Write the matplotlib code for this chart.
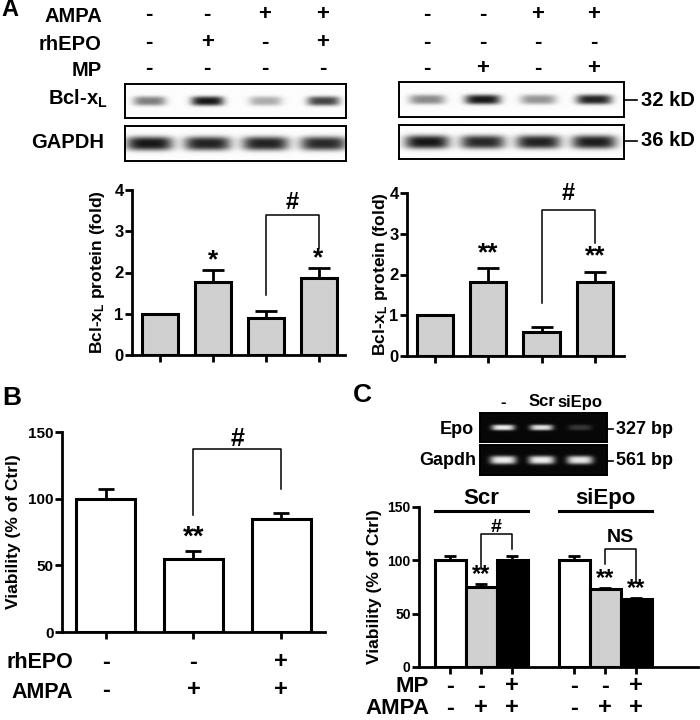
import numpy as np
import matplotlib
matplotlib.use("Agg")
import matplotlib.pyplot as plt
from matplotlib import transforms

plt.rcParams['font.family'] = ['Liberation Sans', 'DejaVu Sans']
plt.rcParams['font.weight'] = 'bold'
plt.rcParams['axes.labelweight'] = 'bold'
plt.rcParams['mathtext.fontset'] = 'custom'
plt.rcParams['mathtext.rm'] = 'Liberation Sans:bold'
plt.rcParams['mathtext.it'] = 'Liberation Sans:bold'
plt.rcParams['mathtext.bf'] = 'Liberation Sans:bold'

# ---------------- data ----------------
# Panel A, treatment rows
A_row_names = ["AMPA", "rhEPO", "MP"]
A_left_rows = [["-", "-", "+", "+"], ["-", "+", "-", "+"], ["-", "-", "-", "-"]]
A_right_rows = [["-", "-", "+", "+"], ["-", "-", "-", "-"], ["-", "+", "-", "+"]]
# blot band intensities (0..1)
A_left_bcl = [0.55, 1.00, 0.35, 0.80]
A_left_gapdh = [1.00, 0.95, 0.95, 0.92]
A_right_bcl = [0.50, 1.00, 0.45, 0.95]
A_right_gapdh = [1.00, 0.92, 0.95, 0.97]
A_markers = ["32 kD", "36 kD"]
# Panel A, quantification
A_left_mean = [1.00, 1.77, 0.90, 1.86]
A_left_err = [0.00, 0.28, 0.17, 0.24]
A_left_stars = ["", "*", "", "*"]
A_right_mean = [1.00, 1.82, 0.60, 1.82]
A_right_err = [0.00, 0.33, 0.12, 0.24]
A_right_stars = ["", "**", "", "**"]
A_yticks = [0, 1, 2, 3, 4]

# Panel B
B_mean = [100, 55, 85]
B_err = [7, 6, 4.5]
B_stars = ["", "**", ""]
B_row_names = ["rhEPO", "AMPA"]
B_rows = [["-", "-", "+"], ["-", "+", "+"]]
B_yticks = [0, 50, 100, 150]

# Panel C gel
C_lanes = ["-", "Scr", "siEpo"]
C_epo = [0.95, 0.90, 0.20]
C_gapdh = [0.95, 0.95, 0.92]
C_markers = ["327 bp", "561 bp"]
# Panel C viability
C_groups = ["Scr", "siEpo"]
C_mean = [100, 75, 100, 100, 73, 64]
C_err = [4, 3, 4, 4, 1, 1]
C_stars = ["", "**", "", "", "**", "**"]
C_row_names = ["MP", "AMPA"]
C_rows = [["-", "-", "+", "-", "-", "+"], ["-", "+", "+", "-", "+", "+"]]
C_yticks = [0, 50, 100, 150]

# ---------------- layout helpers ----------------
W, H = 700, 720
fig = plt.figure(figsize=(7, 7.2), dpi=100)


def add_ax(x0, y0, x1, y1):
    return fig.add_axes([x0 / W, 1 - y1 / H, (x1 - x0) / W, (y1 - y0) / H])


def ftext(x, y, s, **kw):
    return fig.text(x / W, 1 - y / H, s, **kw)


def fy(y):
    return 1 - y / H


def blot(rect, intens, xlim, bw, bh, dark_bg=False):
    ax = add_ax(*rect)
    nx, ny = 400, 80
    xs = np.linspace(xlim[0], xlim[1], nx)
    ys = np.linspace(0, 1, ny)
    X, Y = np.meshgrid(xs, ys)
    img = np.zeros_like(X)
    for i, v in enumerate(intens):
        img += v * np.exp(-np.abs((X - i) / bw) ** 4) * np.exp(-np.abs((Y - 0.5) / bh) ** 3)
    img = np.clip(img, 0, 1)
    if dark_bg:
        data = 0.03 + 0.95 * img
    else:
        data = 0.99 - 0.9 * img
    ax.imshow(data, cmap="gray", vmin=0, vmax=1, extent=(xlim[0], xlim[1], 0, 1),
              aspect="auto", interpolation="bilinear")
    ax.set_xlim(*xlim)
    ax.set_ylim(0, 1)
    ax.set_xticks([])
    ax.set_yticks([])
    for s in ax.spines.values():
        s.set_linewidth(1.4)
    return ax


def bar_panel(rect, pos, vals, errs, colors, ylim, yticks, xlim, width, capsize,
              stars, star_off, star_fs, ylabel, ylabel_x, ytick_fs=11):
    ax = add_ax(*rect)
    ax.errorbar(pos, vals, yerr=[np.zeros(len(errs)), errs], fmt="none", ecolor="black",
                elinewidth=2, capsize=capsize, capthick=2, zorder=1)
    ax.bar(pos, vals, width, color=colors, edgecolor="black", linewidth=2.2, zorder=2)
    for p, v, e, s in zip(pos, vals, errs, stars):
        if s:
            ax.text(p, v + e + star_off, s, ha="center", va="center", fontsize=star_fs,
                    fontweight="bold")
    ax.set_xlim(*xlim)
    ax.set_ylim(*ylim)
    ax.set_yticks(yticks)
    ax.set_xticks(pos)
    ax.set_xticklabels([])
    for side in ["top", "right"]:
        ax.spines[side].set_visible(False)
    for side in ["left", "bottom"]:
        ax.spines[side].set_linewidth(2)
    ax.tick_params(direction="out", length=5, width=2, labelsize=ytick_fs, pad=1)
    for lab in ax.get_yticklabels():
        lab.set_fontweight("bold")
    ax.set_ylabel(ylabel, fontsize=12.5, fontweight="bold")
    ax.yaxis.set_label_coords(
        ylabel_x, 0.5, transform=transforms.blended_transform_factory(fig.transFigure, ax.transAxes))
    return ax


def bracket(ax, x1, y1, x2, y2, ytop, label, label_y, fs=14):
    ax.plot([x1, x1, x2, x2], [y1, ytop, ytop, y2], color="black", lw=1.1,
            clip_on=False, zorder=3)
    ax.text((x1 + x2) / 2, label_y, label, ha="center", va="center", fontsize=fs,
            fontweight="bold", clip_on=False)


def sign_rows(ax, positions, rows, ys, fs=15):
    tr = transforms.blended_transform_factory(ax.transData, fig.transFigure)
    for row, y in zip(rows, ys):
        for p, s in zip(positions, row):
            ax.text(p, fy(y), s, transform=tr, ha="center", va="center",
                    fontsize=fs, fontweight="bold")


# ---------------- Panel A: blots ----------------
ftext(1, 10, "A", fontsize=17, fontweight="bold", ha="left", va="center")
row_y = [17, 44, 70]
for name, y in zip(A_row_names, row_y):
    ftext(102, y, name, fontsize=14.5, fontweight="bold", ha="right", va="center")
ftext(108, 99, r"Bcl-x$_\mathrm{L}$", fontsize=14.5, fontweight="bold", ha="right", va="center")
ftext(104, 143, "GAPDH", fontsize=14.5, fontweight="bold", ha="right", va="center")

lb_xlim = (-0.42, 3.4)
axb1 = blot((125, 84, 346, 118), A_left_bcl, lb_xlim, 0.28, 0.14)
axg1 = blot((125, 126, 346, 161), A_left_gapdh, lb_xlim, 0.4, 0.2)
sign_rows(axb1, range(4), A_left_rows, [15, 43, 69], fs=16)

rb_xlim = (-0.5, 3.55)
axb2 = blot((399, 82, 624, 117), A_right_bcl, rb_xlim, 0.32, 0.14)
axg2 = blot((399, 125, 624, 159), A_right_gapdh, rb_xlim, 0.4, 0.2)
sign_rows(axb2, range(4), A_right_rows, [15, 43, 69], fs=16)

for lab, y in zip(A_markers, [100, 141]):
    fig.add_artist(plt.Line2D([624 / W, 637 / W], [fy(y), fy(y)], color="black", lw=1.2))
    ftext(641, y, lab, fontsize=14.5, fontweight="bold", ha="left", va="center")

# ---------------- Panel A: bar charts ----------------
gray = "#d0d0d0"
pos4 = np.arange(4)
axA1 = bar_panel((132, 190, 345, 355), pos4, A_left_mean, A_left_err, [gray] * 4,
                 (0, 4), A_yticks, (-0.53, 3.5), 0.68, 8, A_left_stars, 0.25, 19,
                 r"Bcl-x$_\mathrm{L}$ protein (fold)", 107 / W, ytick_fs=12)
bracket(axA1, 2, 1.45, 3, 2.6, 3.4, "#", 3.7, fs=17)

axA2 = bar_panel((407, 193, 624, 356), pos4, A_right_mean, A_right_err, [gray] * 4,
                 (0, 4), A_yticks, (-0.53, 3.55), 0.68, 8, A_right_stars, 0.38, 19,
                 r"Bcl-x$_\mathrm{L}$ protein (fold)", 390 / W, ytick_fs=12)
bracket(axA2, 2, 1.3, 3, 2.77, 3.58, "#", 4.0, fs=17)

# ---------------- Panel B ----------------
ftext(2, 398, "B", fontsize=19, fontweight="bold", ha="left", va="center")
pos3 = np.arange(3)
axB = bar_panel((62, 432, 325, 632), pos3, B_mean, B_err, ["white"] * 3,
                (0, 150), B_yticks, (-0.5, 2.5), 0.67, 6, B_stars, 10, 20,
                "Viability (% of Ctrl)", 21 / W)
bracket(axB, 1, 88, 2, 107, 137, "#", 145, fs=18)
for name, y in zip(B_row_names, [662, 692]):
    ftext(73, y, name, fontsize=15.5, fontweight="bold", ha="right", va="center")
sign_rows(axB, pos3, B_rows, [662, 690], fs=17)

# ---------------- Panel C: gel ----------------
ftext(353, 395, "C", fontsize=19, fontweight="bold", ha="left", va="center")
g_xlim = (-0.6, 2.7)
axe = blot((480, 413, 607, 442), C_epo, g_xlim, 0.3, 0.1, dark_bg=True)
axgd = blot((480, 445, 607, 475), C_gapdh, g_xlim, 0.34, 0.14, dark_bg=True)
tr = transforms.blended_transform_factory(axe.transData, fig.transFigure)
for i, lab in enumerate(C_lanes):
    axe.text(i, fy(402), lab, transform=tr, ha="center", va="center", fontsize=12,
             fontweight="bold")
ftext(474, 429, "Epo", fontsize=13, fontweight="bold", ha="right", va="center")
ftext(476, 461, "Gapdh", fontsize=13, fontweight="bold", ha="right", va="center")
for lab, y in zip(C_markers, [429, 461]):
    fig.add_artist(plt.Line2D([607 / W, 613 / W], [fy(y), fy(y)], color="black", lw=1.2))
    ftext(616, y, lab, fontsize=13, fontweight="bold", ha="left", va="center")

# ---------------- Panel C: bar chart ----------------
posC = np.array([0, 1, 2, 4, 5, 6])
colC = ["white", gray, "black", "white", gray, "black"]
axC = bar_panel((419, 507, 698, 667), posC, C_mean, C_err, colC,
                (0, 150), C_yticks, (-1.0, 8.0), 1.0, 4.5, C_stars, 9, 17,
                "Viability (% of Ctrl)", 382 / W, ytick_fs=10)
bracket(axC, 1, 94, 2, 111, 125, "#", 131, fs=14)
bracket(axC, 5, 97, 6, 79, 111, "NS", 121, fs=14)
for gi, g in enumerate(C_groups):
    xs = posC[gi * 3: gi * 3 + 3]
    axC.plot([xs[0] - 0.5, xs[-1] + 0.5], [146, 146], color="black", lw=2.2, clip_on=False)
    axC.text(xs.mean(), 158, g, ha="center", va="center", fontsize=16,
             fontweight="bold", clip_on=False)
for name, y in zip(C_row_names, [687, 709]):
    ftext(429, y, name, fontsize=16, fontweight="bold", ha="right", va="center")
sign_rows(axC, posC, C_rows, [686, 708], fs=17)

fig.savefig("out.png", dpi=100)
